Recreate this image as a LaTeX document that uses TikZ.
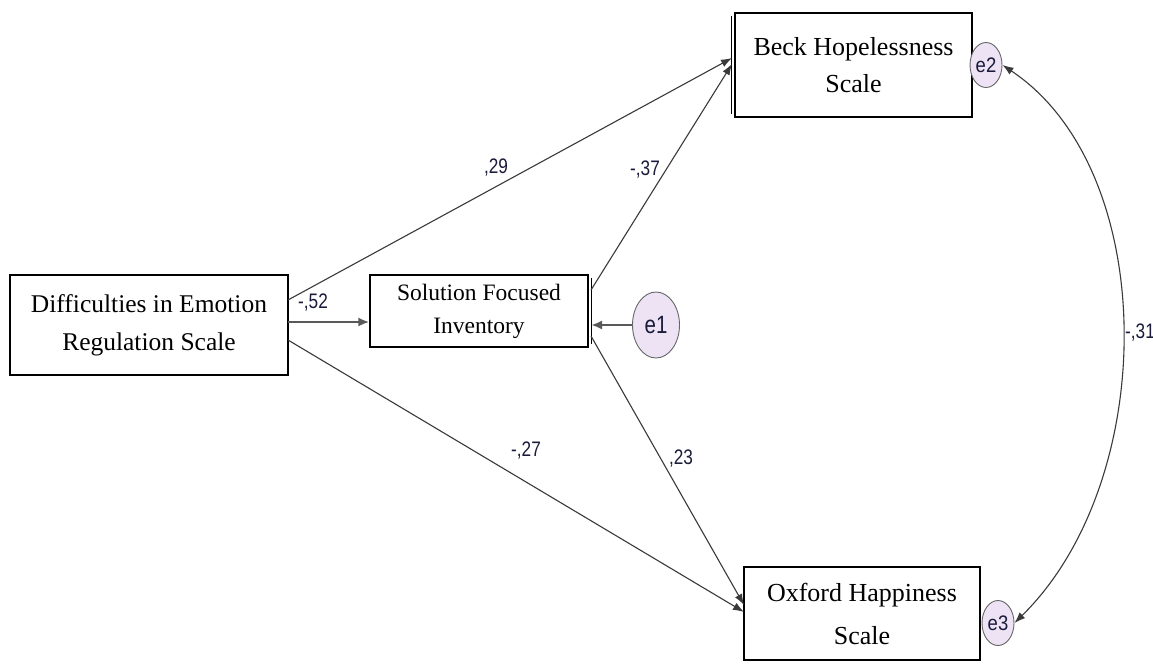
\documentclass[tikz,border=0pt]{standalone}
\usepackage{fontspec}
\usepackage{graphicx}
\setmainfont{Liberation Serif}
\newfontfamily\labfont{Liberation Sans}
\usetikzlibrary{arrows.meta,shapes.geometric}
\definecolor{errfill}{HTML}{EDE3F5}
\definecolor{linegray}{HTML}{3A3A3A}
\definecolor{labcol}{HTML}{1A1A3A}
\newcommand{\narrow}[1]{\scalebox{0.82}[1]{#1}}
\newcommand{\errnarrow}[1]{\scalebox{0.88}[1]{#1}}
\tikzset{
  varbox/.style={draw=black, line width=1.2pt, fill=white, align=center, inner sep=0pt},
  errnode/.style={ellipse, draw=gray!80!black, line width=0.9pt, fill=errfill, inner sep=0pt, text=labcol},
  path/.style={draw=linegray, line width=1.1pt, -{Latex[length=11pt,width=8pt]}},
  thick path/.style={draw=gray!70!black, line width=2.2pt, -{Latex[length=11pt,width=9pt]}},
  coef/.style={font=\labfont\fontsize{21}{21}\selectfont, text=labcol, inner sep=1pt},
}
\begin{document}
\begin{tikzpicture}[x=1pt,y=-1pt]
\useasboundingbox (0,0) rectangle (1153,664);
\fill[white] (0,0) rectangle (1153,664);
% boxes
\node[varbox, minimum width=278pt, minimum height=100pt, font=\fontsize{25.5}{38}\selectfont] (ders) at (149,325) {Difficulties in Emotion\\Regulation Scale};
\node[varbox, minimum width=218pt, minimum height=72pt, font=\fontsize{23.5}{33}\selectfont] (sfi) at (479,311) {Solution Focused\\Inventory};
\node[varbox, minimum width=237pt, minimum height=104pt, font=\fontsize{26}{37}\selectfont] (beck) at (853.5,65) {Beck Hopelessness\\Scale};
\node[varbox, minimum width=236pt, minimum height=93pt, font=\fontsize{26}{43}\selectfont] (ohs) at (862,613.5) {Oxford Happiness\\Scale};
% double edge shadows
\draw[line width=1.2pt] ([xshift=-3pt,yshift=-4pt]beck.north west) -- ([xshift=-3pt,yshift=4pt]beck.south west);
\draw[line width=1.2pt] ([xshift=3pt,yshift=-4pt]sfi.north east) -- ([xshift=3pt,yshift=4pt]sfi.south east);
% error terms
\node[errnode, minimum width=47pt, minimum height=66pt, font=\labfont\fontsize{25}{25}\selectfont] (e1) at (656,325) {\narrow{e1}};
\node[errnode, minimum width=32pt, minimum height=45pt, font=\labfont\fontsize{21}{21}\selectfont] (e2) at (986,65) {\errnarrow{e2}};
\node[errnode, minimum width=32pt, minimum height=45pt, font=\labfont\fontsize{21}{21}\selectfont] (e3) at (998,623) {\errnarrow{e3}};
% coordinates on box edges
\coordinate (dersA) at (288,300);
\coordinate (dersB) at (288,322);
\coordinate (dersC) at (288,340);
\coordinate (sfiA) at (591,290);
\coordinate (sfiB) at (591,325);
\coordinate (sfiC) at (591,336);
\coordinate (beckA) at (732,58);
\coordinate (beckB) at (732,64);
\coordinate (ohsA) at (744,605);
\coordinate (ohsB) at (744,612);
% paths
\draw[path] (dersA) -- (beckA);
\draw[thick path] (dersB) -- (sfi.west |- dersB);
\draw[path] (dersC) -- (ohsB);
\draw[path] (sfiA) -- (beckB);
\draw[path] (sfiC) -- (ohsA);
\draw[thick path] (e1) -- (sfiB);
\draw[draw=linegray, line width=1.1pt, {Latex[length=11pt,width=8pt]}-{Latex[length=11pt,width=8pt]}] (e2.east) .. controls (1160,170) and (1160,480) .. (e3.east);
% coefficients
\node[coef] (c29) at (496,168) {\narrow{,29}};
\node[coef] (c52) at (313,303) {\narrow{-,52}};
\node[coef] (c27) at (526,451) {\narrow{-,27}};
\node[coef] (c37) at (645,170) {\narrow{-,37}};
\node[coef] (c23) at (681,459) {\narrow{,23}};
\node[coef] (c31) at (1140,333) {\narrow{-,31}};
\end{tikzpicture}
\end{document}
